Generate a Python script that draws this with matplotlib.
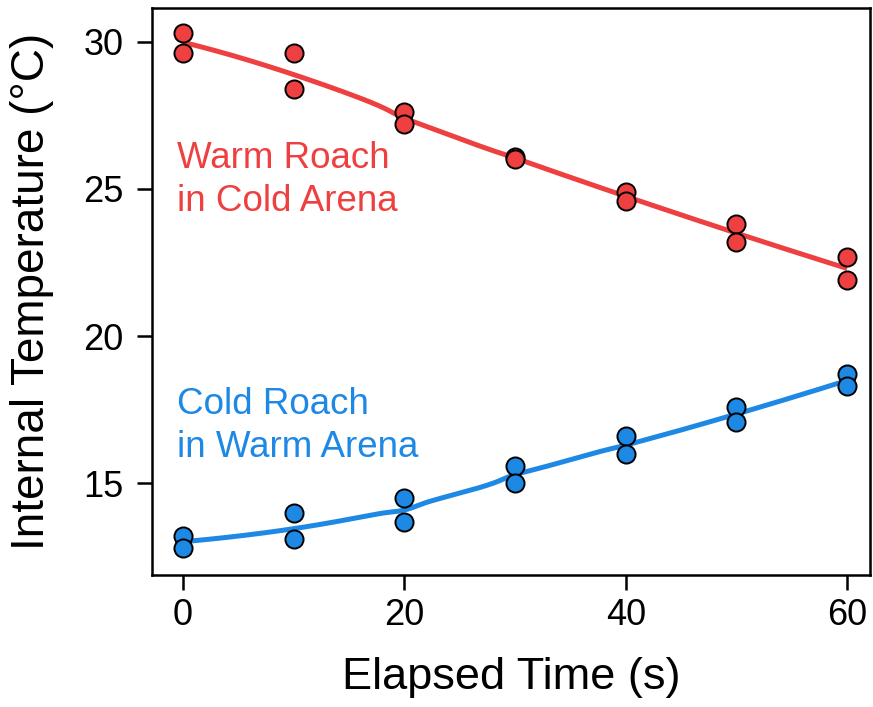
# Roach internal temperature vs elapsed time

import matplotlib.pyplot as plt
import numpy as np

plt.rcParams['font.family'] = ['Liberation Sans', 'DejaVu Sans']

times = [0, 10, 20, 30, 40, 50, 60]
# two roaches measured at every time point
warm_a = [30.3, 29.6, 27.6, 26.1, 24.9, 23.8, 22.7]
warm_b = [29.6, 28.4, 27.2, 26.0, 24.6, 23.2, 21.9]
cold_a = [13.2, 14.0, 14.5, 15.6, 16.6, 17.6, 18.7]
cold_b = [12.8, 13.1, 13.7, 15.0, 16.0, 17.1, 18.3]

RED = '#EE4040'
BLUE = '#1E88E5'


def loess(x, y, xs, span=0.75):
    # local quadratic fit with tricube weights (like R's loess default)
    x = np.asarray(x, float)
    y = np.asarray(y, float)
    q = int(np.floor(len(x) * span))
    out = []
    for x0 in xs:
        d = np.abs(x - x0)
        h = np.sort(d)[q - 1]
        w = np.clip(1 - (d / h) ** 3, 0, None) ** 3
        X = np.vstack([np.ones_like(x), x - x0, (x - x0) ** 2]).T
        W = np.diag(w)
        beta = np.linalg.lstsq(X.T @ W @ X, X.T @ W @ y, rcond=None)[0]
        out.append(beta[0])
    return np.array(out)


fig = plt.figure(figsize=(8.73, 7.07), dpi=100)
ax = fig.add_axes([0.174, 0.187, 0.823, 0.802])

xs = np.linspace(0, 60, 300)
for a, b, c in [(warm_a, warm_b, RED), (cold_a, cold_b, BLUE)]:
    tx = times + times
    ty = a + b
    ax.plot(xs, loess(tx, ty, xs), color=c, lw=3.6, zorder=2,
            solid_capstyle='butt')
    ax.scatter(tx, ty, s=170, color=c, edgecolor='black',
               linewidth=1.4, zorder=3)

ax.text(-0.5, 25.3, 'Warm Roach\nin Cold Arena', color=RED, fontsize=26.5,
        linespacing=1.3, va='center', ha='left')
ax.text(-0.5, 16.95, 'Cold Roach\nin Warm Arena', color=BLUE, fontsize=26.5,
        linespacing=1.3, va='center', ha='left')

ax.set_xlim(-2.8, 62.1)
ax.set_ylim(11.9, 31.15)
ax.set_xticks([0, 20, 40, 60])
ax.set_yticks([15, 20, 25, 30])
ax.tick_params(labelsize=26, width=1.8, length=11)
ax.tick_params(axis='y', pad=9.5)
ax.tick_params(axis='x', pad=6)
for s in ax.spines.values():
    s.set_linewidth(1.8)

ax.set_xlabel('Elapsed Time (s)', fontsize=32.5, labelpad=17)
ax.set_ylabel('Internal Temperature (\u00b0C)', fontsize=33, labelpad=21)

fig.savefig('out.png', dpi=100)
